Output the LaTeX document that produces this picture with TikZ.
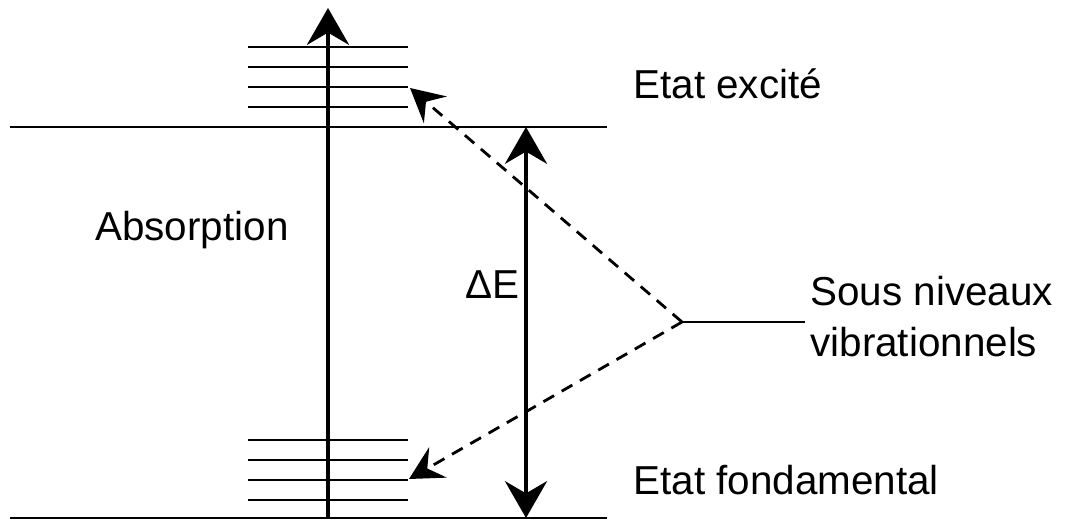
\documentclass[tikz,border=0pt]{standalone}
\usepackage{tikz}
\usetikzlibrary{arrows.meta,positioning}
\usepackage{fontspec}
\setmainfont{Liberation Sans}

\begin{document}
\begin{tikzpicture}[x=0.02cm,y=-0.02cm,
    lvl/.style={line width=1.1pt},
    sub/.style={line width=1.2pt},
    lbl/.style={font=\fontsize{23}{28}\selectfont,inner sep=0pt},
    bigtip/.style={-{Stealth[length=21pt,width=24pt,inset=7pt]}},
    dashtip/.style={dashed,dash pattern=on 7pt off 5pt,line width=1.6pt,
      -{Stealth[length=19pt,width=20pt,inset=7pt]}}]
  \useasboundingbox (0,0) rectangle (1065,520);
  % niveaux
  \coordinate (exc-l) at (10,127);  \coordinate (exc-r) at (607,127);
  \coordinate (fond-l) at (10,518); \coordinate (fond-r) at (607,518);
  \draw[lvl](exc-l)--(exc-r);
  \draw[lvl](fond-l)--(fond-r);
  \foreach \y in {47,67,87,107}{
    \draw[sub](248,\y)--(408,\y);}
  \foreach \y in {440,460,480,500}{
    \draw[sub](248,\y)--(408,\y);}
  % fleches
  \coordinate (abs-bot) at (328,518); \coordinate (abs-top) at (328,8);
  \draw[bigtip,line width=2.3pt](abs-bot)--(abs-top);
  \coordinate (de-top) at (526,127); \coordinate (de-bot) at (526,518);
  \draw[line width=1.8pt,
    {Stealth[length=21pt,width=24pt,inset=7pt]}-{Stealth[length=21pt,width=24pt,inset=7pt]}]
    (de-bot)--(de-top);
  \coordinate (junc) at (682,322);
  \coordinate (sub-up) at (410,88);
  \coordinate (sub-dn) at (409,479);
  \draw[dashtip](junc)--(sub-up);
  \draw[dashtip](junc)--(sub-dn);
  \coordinate (lead) at (805,322);
  \draw[lvl](junc)--(lead);
  % textes
  \node[lbl,anchor=base west](excite) at (633,99){Etat excité};
  \node[lbl,anchor=base west](fond) at (633,494){Etat fondamental};
  \node[lbl,anchor=base west](absorp) at (95,241){Absorption};
  \node[lbl,anchor=base east](deltaE) at (520,298){ΔE};
  \node[lbl,anchor=base west](sous) at (810,305){Sous niveaux};
  \node[lbl,anchor=base west](vib) at (810,357){vibrationnels};
\end{tikzpicture}
\end{document}
